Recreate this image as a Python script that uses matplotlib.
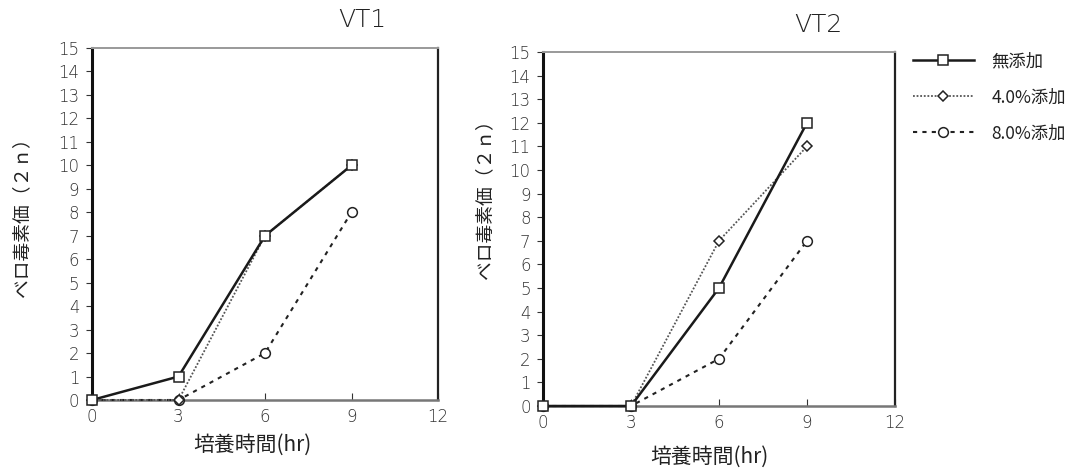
import numpy as np
import matplotlib
matplotlib.use('Agg')
import matplotlib.pyplot as plt

plt.rcParams['font.family'] = ['Noto Sans CJK JP', 'DejaVu Sans']

# data
hours = [0, 3, 6, 9]
labels = ['無添加', '4.0%添加', '8.0%添加']
vt1_none = [0, 1, 7, 10]
vt1_4pct = [0, 0, 7, 10]
vt1_8pct = [0, 0, 2, 8]
vt2_none = [0, 0, 5, 12]
vt2_4pct = [0, 0, 7, 11]
vt2_8pct = [0, 0, 2, 7]

W, H = 1076, 472
fig = plt.figure(figsize=(W / 100, H / 100), dpi=100)


def px_axes(left, right, top, bottom):
    return fig.add_axes([left / W, 1 - bottom / H, (right - left) / W, (bottom - top) / H])


styles = [
    dict(color='#1a1a1a', lw=1.8, ls='-', marker='s', ms=7.5, z=5),
    dict(color='#555555', lw=1.3, ls=(0, (1, 1)), marker='D', ms=5.5, z=4),
    dict(color='#222222', lw=1.5, ls=(0, (2, 2.5)), marker='o', ms=7, z=3),
]


def draw(ax, series, title, title_x, title_y, ylab_x, ylab_y, xlab_x, xlab_y):
    for vals, st, lab in zip(series, styles, labels):
        ax.plot(hours, vals, color=st['color'], lw=st['lw'], ls=st['ls'],
                marker=st['marker'], ms=st['ms'], mfc='white', mec='#222222',
                mew=1.1, clip_on=False, label=lab, zorder=st['z'])
    ax.set_xlim(0, 12)
    ax.set_ylim(0, 15)
    ax.set_xticks([0, 3, 6, 9, 12])
    ax.set_yticks(range(0, 16))
    ax.tick_params(axis='y', direction='out', length=4, width=0.8, labelsize=12,
                   colors='#333333', pad=5)
    ax.tick_params(axis='x', direction='in', length=5, width=0.8, labelsize=12,
                   colors='#333333', pad=6)
    for lab in ax.get_xticklabels() + ax.get_yticklabels():
        lab.set_fontfamily(['DejaVu Sans'])
        lab.set_fontweight('light')
    ax.spines['left'].set_color('#111111')
    ax.spines['left'].set_linewidth(2.2)
    ax.spines['right'].set_color('#222222')
    ax.spines['right'].set_linewidth(1.6)
    ax.spines['top'].set_color('#999999')
    ax.spines['top'].set_linewidth(1.4)
    ax.spines['bottom'].set_color('#777777')
    ax.spines['bottom'].set_linewidth(1.8)
    fig.text(title_x / W, 1 - title_y / H, title, fontsize=18, color='#222222',
             ha='center', va='center', family=['DejaVu Sans'], fontweight='light')
    fig.text(ylab_x / W, 1 - ylab_y / H, 'ベロ毒素価（２ｎ）', fontsize=13.5,
             rotation=90, ha='center', va='center', color='#222222')
    fig.text(xlab_x / W, 1 - xlab_y / H, '培養時間(hr)', fontsize=15,
             ha='center', va='center', color='#222222')


ax1 = px_axes(92, 438, 48, 400)
draw(ax1, [vt1_none, vt1_4pct, vt1_8pct], 'VT1', 362, 20, 22, 213, 252, 445)

ax2 = px_axes(543, 895, 52, 406)
draw(ax2, [vt2_none, vt2_4pct, vt2_8pct], 'VT2', 818, 25, 485, 195, 709, 457)

leg = ax2.legend(loc='upper left', bbox_to_anchor=(913 / W, 1 - 52 / H),
                 bbox_transform=fig.transFigure, frameon=False, fontsize=12.5,
                 handlelength=3.5, handletextpad=1.0, labelspacing=1.05,
                 borderpad=0, borderaxespad=0)
for t in leg.get_texts():
    t.set_color('#222222')

fig.savefig('out.png', dpi=100)
